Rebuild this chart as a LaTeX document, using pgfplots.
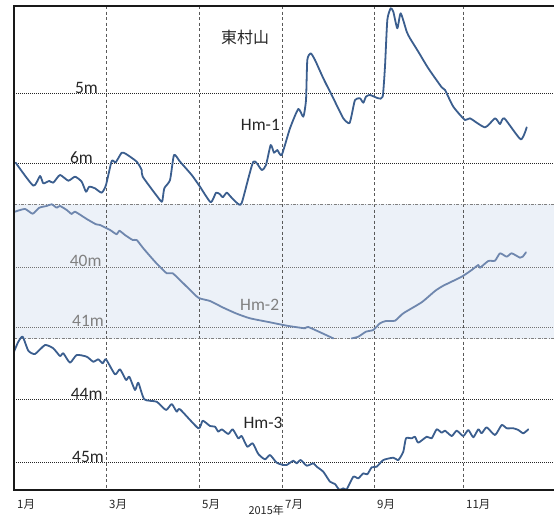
\documentclass[border=0pt]{standalone}
\usepackage{fontspec}
\setmainfont{Carlito}
\newfontfamily\jp{Noto Sans CJK JP}
\usepackage{pgfplots}
\pgfplotsset{compat=1.18}
\definecolor{lineA}{HTML}{3B5E8E}
\definecolor{lineB}{HTML}{6F87AE}
\definecolor{bandc}{HTML}{ECF1F8}
\definecolor{txt}{HTML}{262626}
\definecolor{txtg}{HTML}{808080}
\tikzset{
  lbl/.style={font=\fontsize{17.5}{18}\selectfont, text=txt, inner sep=0pt},
  curve/.style={line width=1.8bp, line join=round, line cap=round, smooth, tension=0.35},
}
\pgfplotsset{
  base/.style={width=540bp, height=484bp, scale only axis, at={(14bp,27bp)}, anchor=south west,
    xmin=0, xmax=12, y dir=reverse, axis line style={draw=none}, tick style={draw=none},
    xtick=\empty, clip=true},
  hgrid/.style={ymajorgrids, yticklabels={}, major y grid style={black!85, line width=0.6bp, dash pattern=on 1.2bp off 0.8bp}},
}
\begin{document}
\begin{tikzpicture}
\path[use as bounding box] (0,0) rectangle (554bp,517bp);
% shaded band (Hm-2 scale)
\begin{axis}[base, ymin=35.65, ymax=43.717, ytick=\empty, hide axis]
\fill[bandc] (axis cs:0,38.955) rectangle (axis cs:12,41.192);
\end{axis}
% Hm-2
\begin{axis}[base, ymin=35.65, ymax=43.717,
  xtick={0,2.044,4.111,5.956,8,9.978}, xticklabels={}, xmajorgrids,
  major x grid style={black!65, line width=0.6bp, dash pattern=on 3bp off 2.5bp},
  ytick={40,41}, hgrid, major y grid style={black!55, line width=0.6bp, dash pattern=on 1.2bp off 0.8bp},
  unbounded coords=jump]
\draw[black!50, line width=0.6bp, dash pattern=on 3bp off 1.5bp on 0.8bp off 1.5bp] (axis cs:0,38.955) -- (axis cs:12,38.955);
\draw[black!50, line width=0.6bp, dash pattern=on 3bp off 1.5bp on 0.8bp off 1.5bp] (axis cs:0,41.192) -- (axis cs:12,41.192);
\addplot[curve, lineB] coordinates {
(0.022,39.078) (0.244,39.033) (0.416,39.112) (0.562,39.012) (0.727,38.983) (0.838,38.955)
(0.949,39.012) (1.022,38.983) (1.171,39.05) (1.282,39.117) (1.356,39.078) (1.616,39.2)
(1.822,39.288) (1.911,39.3) (2.133,39.383) (2.282,39.455) (2.34,39.395) (2.467,39.467)
(2.638,39.55) (2.727,39.55) (2.873,39.688) (3.133,39.912) (3.393,40.105) (3.527,40.105)
(3.838,40.328) (4.096,40.512) (4.356,40.567) (4.651,40.678) (4.949,40.778) (5.244,40.855)
(5.689,40.922) (6.06,40.978) (6.467,41.022) (6.54,41.0) (7.096,41.19)
(7.3,nan)
(7.504,41.19) (7.651,41.162) (7.822,41.078) (7.984,41.05) (8.133,40.938) (8.267,40.9)
(8.467,40.895) (8.651,40.772) (9.06,40.588) (9.356,40.4) (9.54,40.312) (9.949,40.162)
(10.171,40.05) (10.318,39.967) (10.356,40.012) (10.54,39.9) (10.689,39.895) (10.8,39.772)
(10.949,39.828) (11.06,39.772) (11.244,39.845) (11.304,39.828) (11.378,39.755)
};
\node[lbl, text=txtg, anchor=base east] at (axis cs:1.949,40) {40m};
\node[lbl, text=txtg, anchor=base east] at (axis cs:2.0,41) {41m};
\node[lbl, text=txtg, anchor=base west] at (axis cs:5.022,40.717) {Hm-2};
\end{axis}
% Hm-1
\begin{axis}[base, ymin=3.766, ymax=10.631, ytick={5,6}, hgrid]
\addplot[curve, lineA] coordinates {
(0.038,5.989) (0.429,6.315) (0.578,6.177) (0.651,6.281) (0.784,6.248) (0.873,6.272)
(1.022,6.163) (1.207,6.244) (1.356,6.187) (1.504,6.258) (1.6,6.400) (1.673,6.329)
(1.8,6.352) (1.949,6.414) (2.044,6.305) (2.171,5.965) (2.26,5.983) (2.393,5.847)
(2.489,5.865) (2.727,5.974) (2.838,6.092) (2.86,6.187) (3.244,6.518) (3.296,6.532)
(3.34,6.352) (3.467,6.234) (3.556,5.879) (3.689,5.974) (3.949,6.163) (4.133,6.329)
(4.371,6.550) (4.489,6.414) (4.578,6.437) (4.638,6.479) (4.727,6.414) (4.816,6.471)
(4.949,6.556) (5.06,6.56) (5.318,5.974) (5.504,6.092) (5.6,6.021) (5.704,5.738)
(5.778,5.847) (5.851,5.809) (5.949,5.879) (6.133,5.501) (6.318,5.227) (6.429,5.336)
(6.489,5.099) (6.518,4.532) (6.593,4.437) (6.689,4.532) (6.873,4.791) (7.096,5.075)
(7.318,5.359) (7.451,5.430) (7.504,5.312) (7.578,5.099) (7.689,5.075) (7.762,5.138)
(7.822,5.052) (7.911,5.028) (8.096,5.075) (8.193,5.052) (8.244,4.627) (8.296,3.965)
(8.371,3.799) (8.429,3.847) (8.518,4.082) (8.593,3.870) (8.727,4.130) (8.8,4.224)
(8.984,4.414) (9.207,4.650) (9.504,4.919) (9.578,4.957) (9.762,5.194) (10.022,5.383)
(10.133,5.359) (10.467,5.487) (10.689,5.359) (10.8,5.440) (10.896,5.359) (11.26,5.657)
(11.393,5.487)
};
\node[lbl, anchor=base east] at (axis cs:1.867,5) {5m};
\node[lbl, anchor=base east] at (axis cs:1.756,6) {6m};
\node[lbl, anchor=base west] at (axis cs:5.038,5.525) {Hm-1};
\end{axis}
% Hm-3, frame and labels
\begin{axis}[base, ymin=37.811, ymax=45.433, ytick={44,45}, hgrid, clip mode=individual,
  xtick={0,2.044,4.111,5.956,8,9.978}, xticklabels={1月,3月,5月,7月,9月,11月},
  xticklabel style={anchor=north west, inner sep=0pt, xshift=3bp, yshift=-9bp, font=\jp\fontsize{11.5}{12}\selectfont, text=txt}]
\addplot[curve, lineA] coordinates {
(0,43.255) (0.096,43.098) (0.193,43.019) (0.318,43.239) (0.467,43.291) (0.689,43.150)
(0.873,43.202) (1.022,43.323) (1.096,43.280) (1.244,43.428) (1.393,43.307) (1.616,43.334)
(1.762,43.413) (1.873,43.375) (1.971,43.438) (2.044,43.375) (2.244,43.611) (2.356,43.532)
(2.489,43.701) (2.562,43.649) (2.689,43.858) (2.762,43.743) (2.896,44.005) (3.171,44.043)
(3.378,44.173) (3.504,44.079) (3.616,44.2) (3.689,44.162) (4.096,44.461) (4.193,44.342)
(4.356,44.425) (4.467,44.436) (4.54,44.515) (4.616,44.477) (4.762,44.551) (4.86,44.477)
(4.984,44.619) (5.06,44.583) (5.184,44.751) (5.304,44.698) (5.429,44.866) (5.578,44.95)
(5.689,44.882) (5.838,45.003) (5.984,45.039) (6.06,45.039) (6.207,44.972) (6.282,45.013)
(6.371,44.961) (6.504,45.050) (6.651,45.013) (6.727,45.066) (6.873,45.145) (7.022,45.302)
(7.133,45.339) (7.229,45.43) (7.318,45.406) (7.393,45.422) (7.54,45.224) (7.651,45.249)
(7.762,45.170) (7.851,45.186) (7.949,45.076) (8.06,45.066) (8.207,44.961) (8.429,44.924)
(8.54,44.961) (8.651,44.830) (8.711,44.619) (8.838,44.619) (8.911,44.594) (8.984,44.688)
(9.171,44.594) (9.282,44.619) (9.393,44.477) (9.504,44.531) (9.578,44.499) (9.727,44.583)
(9.838,44.499) (9.984,44.583) (10.096,44.488) (10.207,44.603) (10.318,44.477) (10.393,44.540)
(10.504,44.446) (10.689,44.567) (10.838,44.409) (10.949,44.461) (11.096,44.461) (11.207,44.488)
(11.318,44.540) (11.429,44.477)
};
\node[lbl, anchor=base east] at (axis cs:1.97,44) {44m};
\node[lbl, anchor=base east] at (axis cs:2.0,45) {45m};
\node[lbl, anchor=base west] at (axis cs:5.096,44.462) {Hm-3};
\draw[black!90, line width=2.5bp] (rel axis cs:1,1) -- (rel axis cs:0,1) -- (rel axis cs:0,0) -- (rel axis cs:1,0);
\node[font=\jp\fontsize{16}{16}\selectfont, text=txt, inner sep=0pt] at (rel axis cs:0.428,0.936) {東村山};
\node[font=\jp\fontsize{11}{11}\selectfont, text=txt, inner sep=0pt, anchor=south] at (rel axis cs:0.467,0) [yshift=-26bp] {2015年};
\end{axis}
\end{tikzpicture}
\end{document}
